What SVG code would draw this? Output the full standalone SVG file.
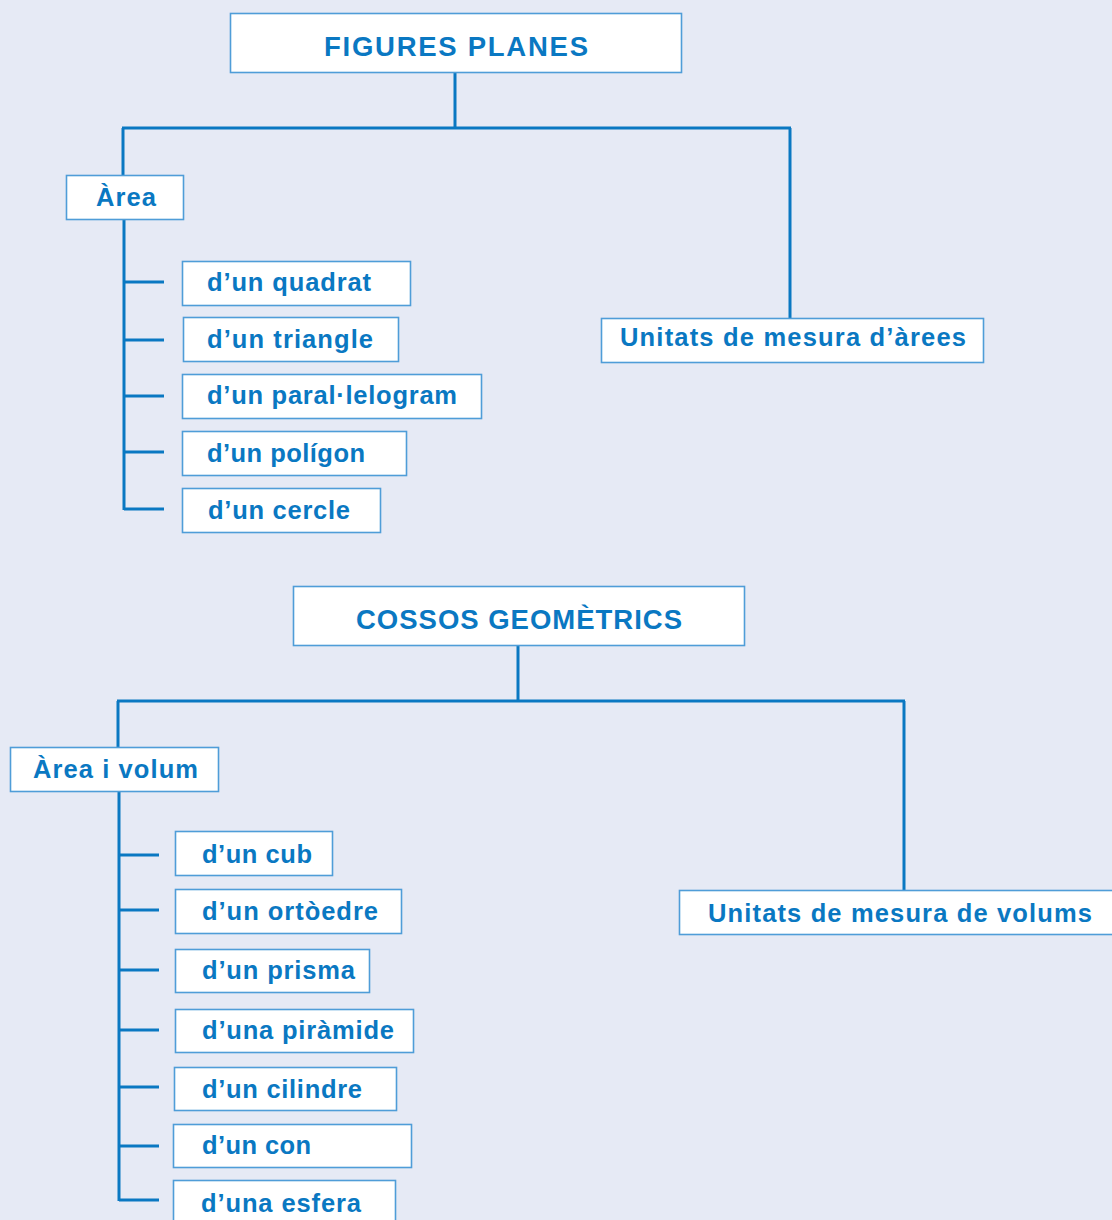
<svg xmlns="http://www.w3.org/2000/svg" width="1112" height="1220" viewBox="0 0 1112 1220">
<style>
.bg{fill:#e6eaf5}
.box{fill:#ffffff;stroke:#4f9dd8;stroke-width:1.6}
.t{font-family:"Liberation Sans",Arial,sans-serif;font-weight:bold;fill:#0a78c2;font-size:25.5px}
.h{font-size:27.5px}
.ln{stroke:#0a78c2;stroke-width:3;fill:none}
</style>
<rect class="bg" x="0" y="0" width="1112" height="1220"/>
<g id="connectors">
<path class="ln" d="M455,72 V128 M122,128 H791 M123,128 V175 M790,128 V318"/>
<path class="ln" d="M124,219 V510 M124,282 H164 M124,340 H164 M124,396 H164 M124,452 H164 M124,509 H164"/>
<path class="ln" d="M518,645 V701 M117,701 H905 M118,701 V747 M904,701 V890"/>
<path class="ln" d="M119,791 V1201 M119,855 H159 M119,910 H159 M119,970 H159 M119,1030 H159 M119,1087 H159 M119,1146 H159 M119,1200 H159"/>
</g>
<g id="figures-planes"><rect class="box" x="230.5" y="13.5" width="451" height="59"/><text class="t h" x="324" y="56" textLength="264" lengthAdjust="spacing">FIGURES PLANES</text></g>
<g id="area"><rect class="box" x="66.5" y="175.5" width="117" height="44"/><text class="t" x="96" y="206" textLength="60" lengthAdjust="spacing">Àrea</text></g>
<g id="quadrat"><rect class="box" x="182.5" y="261.5" width="228" height="44"/><text class="t" x="207" y="291" textLength="164" lengthAdjust="spacing">d’un quadrat</text></g>
<g id="triangle"><rect class="box" x="183.5" y="317.5" width="215" height="44"/><text class="t" x="207" y="348" textLength="166" lengthAdjust="spacing">d’un triangle</text></g>
<g id="paralelogram"><rect class="box" x="182.5" y="374.5" width="299" height="44"/><text class="t" x="207" y="404" textLength="250" lengthAdjust="spacing">d’un paral·lelogram</text></g>
<g id="poligon"><rect class="box" x="182.5" y="431.5" width="224" height="44"/><text class="t" x="207" y="462" textLength="158" lengthAdjust="spacing">d’un polígon</text></g>
<g id="cercle"><rect class="box" x="182.5" y="488.5" width="198" height="44"/><text class="t" x="208" y="519" textLength="142" lengthAdjust="spacing">d’un cercle</text></g>
<g id="unitats-arees"><rect class="box" x="601.5" y="318.5" width="382" height="44"/><text class="t" x="620" y="346" textLength="346" lengthAdjust="spacing">Unitats de mesura d’àrees</text></g>
<g id="cossos"><rect class="box" x="293.5" y="586.5" width="451" height="59"/><text class="t h" x="356" y="629" textLength="326" lengthAdjust="spacing">COSSOS GEOMÈTRICS</text></g>
<g id="area-volum"><rect class="box" x="10.5" y="747.5" width="208" height="44"/><text class="t" x="33" y="778" textLength="165" lengthAdjust="spacing">Àrea i volum</text></g>
<g id="cub"><rect class="box" x="175.5" y="831.5" width="157" height="44"/><text class="t" x="202" y="863" textLength="110" lengthAdjust="spacing">d’un cub</text></g>
<g id="ortoedre"><rect class="box" x="175.5" y="889.5" width="226" height="44"/><text class="t" x="202" y="920" textLength="176" lengthAdjust="spacing">d’un ortòedre</text></g>
<g id="prisma"><rect class="box" x="175.5" y="949.5" width="194" height="43"/><text class="t" x="202" y="979" textLength="153" lengthAdjust="spacing">d’un prisma</text></g>
<g id="piramide"><rect class="box" x="175.5" y="1009.5" width="238" height="43"/><text class="t" x="202" y="1039" textLength="192" lengthAdjust="spacing">d’una piràmide</text></g>
<g id="cilindre"><rect class="box" x="174.5" y="1067.5" width="222" height="43"/><text class="t" x="202" y="1098" textLength="160" lengthAdjust="spacing">d’un cilindre</text></g>
<g id="con"><rect class="box" x="173.5" y="1124.5" width="238" height="43"/><text class="t" x="202" y="1154" textLength="109" lengthAdjust="spacing">d’un con</text></g>
<g id="esfera"><rect class="box" x="173.5" y="1180.5" width="222" height="44"/><text class="t" x="201" y="1212" textLength="160" lengthAdjust="spacing">d’una esfera</text></g>
<g id="unitats-volums"><rect class="box" x="679.5" y="890.5" width="440" height="44"/><text class="t" x="708" y="922" textLength="384" lengthAdjust="spacing">Unitats de mesura de volums</text></g>
</svg>
